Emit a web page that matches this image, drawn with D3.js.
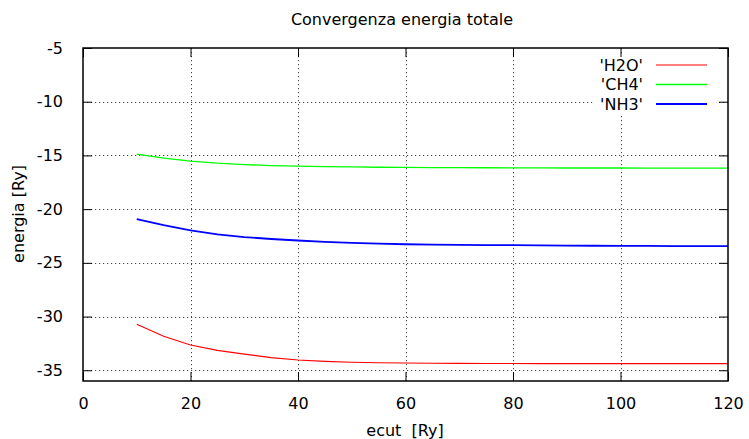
<!DOCTYPE html>
<html><head><meta charset="utf-8">
<script src="https://cdn.jsdelivr.net/npm/d3@7"></script>
<style>
html,body{margin:0;padding:0;background:#fff;}
text{font-family:"DejaVu Sans",sans-serif;fill:#000;}
</style></head>
<body>
<svg id="chart" width="749" height="439"></svg>
<script>
const title = "Convergenza energia totale";
const xLabel = "ecut  [Ry]";
const yLabel = "energia [Ry]";
const xTicks = [0, 20, 40, 60, 80, 100, 120];
const yTicks = [-35, -30, -25, -20, -15, -10, -5];
const ecut = [10,15,20,25,30,35,40,45,50,55,60,65,70,75,80,85,90,95,100,105,110,115,120];
const h2o = [-30.72,-31.83,-32.65,-33.15,-33.5,-33.82,-34.05,-34.17,-34.25,-34.30,-34.33,-34.35,-34.36,-34.37,-34.37,-34.38,-34.38,-34.38,-34.38,-34.38,-34.38,-34.38,-34.38];
const ch4 = [-14.88,-15.25,-15.53,-15.72,-15.85,-15.95,-16.0,-16.04,-16.07,-16.10,-16.12,-16.13,-16.14,-16.15,-16.16,-16.16,-16.17,-16.17,-16.17,-16.18,-16.18,-16.18,-16.18];
const nh3 = [-20.93,-21.5,-21.98,-22.35,-22.6,-22.78,-22.92,-23.05,-23.15,-23.22,-23.27,-23.30,-23.33,-23.35,-23.36,-23.38,-23.40,-23.41,-23.42,-23.43,-23.44,-23.45,-23.45];
const seriesNames = ["'H2O'", "'CH4'", "'NH3'"];
const seriesColors = ["#ff0000", "#00ff00", "#0000ff"];
const seriesWidths = [1.1, 1.3, 1.8];
const seriesData = [h2o, ch4, nh3];

const svg = d3.select("#chart");
const L = 83, R = 728, T = 48, B = 381;
const x = d3.scaleLinear().domain([0, 120]).range([L, R]);
const y = d3.scaleLinear().domain([-36, -5]).range([B, T]);

// grid
const grid = svg.append("g").attr("stroke", "#444").attr("stroke-width", 1).attr("stroke-dasharray", "1.2,2.8");
grid.selectAll("line.gx").data(xTicks.filter(d => d > 0 && d < 120)).join("line")
  .attr("x1", d => Math.round(x(d)) + 0.5).attr("x2", d => Math.round(x(d)) + 0.5)
  .attr("y1", T).attr("y2", B);
grid.selectAll("line.gy").data(yTicks.filter(d => d > -36 && d < -5)).join("line")
  .attr("x1", L).attr("x2", R)
  .attr("y1", d => Math.round(y(d)) + 0.5).attr("y2", d => Math.round(y(d)) + 0.5);

// legend background
svg.append("rect").attr("x", 594).attr("y", 56).attr("width", 122).attr("height", 59).attr("fill", "#fff");

// axes
const fs = "16px";
const fmt = d => String(d);
const xAxisB = d3.axisBottom(x).tickValues(xTicks).tickSize(-9).tickPadding(17).tickFormat(fmt);
const gx = svg.append("g").attr("transform", `translate(0,${B})`).call(xAxisB);
const xAxisT = d3.axisTop(x).tickValues(xTicks).tickSize(-9).tickFormat("");
const gxt = svg.append("g").attr("transform", `translate(0,${T})`).call(xAxisT);
const yAxisL = d3.axisLeft(y).tickValues(yTicks).tickSize(-9).tickPadding(20).tickFormat(fmt);
const gy = svg.append("g").attr("transform", `translate(${L},0)`).call(yAxisL);
const yAxisR = d3.axisRight(y).tickValues(yTicks).tickSize(-9).tickFormat("");
const gyr = svg.append("g").attr("transform", `translate(${R},0)`).call(yAxisR);
[gx, gxt, gy, gyr].forEach(g => {
  g.select(".domain").remove();
  g.selectAll(".tick line").attr("stroke", "#000").attr("stroke-width", 1);
  g.selectAll("text").attr("font-size", fs).attr("font-family", "DejaVu Sans").attr("fill", "#000");
});

// lines
const line = d3.line().x((d, i) => x(ecut[i])).y(d => y(d));
seriesData.forEach((s, k) => {
  svg.append("path").datum(s).attr("d", line).attr("fill", "none")
    .attr("stroke", seriesColors[k]).attr("stroke-width", seriesWidths[k]);
});

// border
svg.append("rect").attr("x", L).attr("y", T).attr("width", R - L).attr("height", B - T)
  .attr("fill", "none").attr("stroke", "#000").attr("stroke-width", 1.5);

// legend
seriesNames.forEach((n, k) => {
  const yy = 65 + k * 19.5;
  svg.append("text").attr("x", 643).attr("y", yy).attr("dy", "0.36em").attr("text-anchor", "end")
    .attr("font-size", fs).text(n);
  svg.append("line").attr("x1", 656).attr("x2", 707).attr("y1", yy).attr("y2", yy)
    .attr("stroke", seriesColors[k]).attr("stroke-width", seriesWidths[k]);
});

// title & labels
svg.append("text").attr("x", 402).attr("y", 25).attr("text-anchor", "middle").attr("font-size", fs).text(title);
svg.append("text").attr("x", 405).attr("y", 436).attr("text-anchor", "middle").attr("font-size", fs)
  .style("white-space", "pre").text(xLabel);
svg.append("text").attr("transform", "translate(24,214) rotate(-90)").attr("text-anchor", "middle")
  .attr("font-size", fs).text(yLabel);
</script>
</body></html>
